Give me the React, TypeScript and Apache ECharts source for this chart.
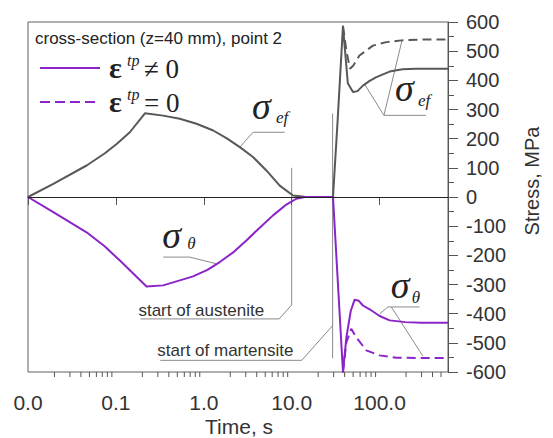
import React, { useEffect, useRef } from 'react';
import * as echarts from 'echarts';

type P = [number, number];

// Axes
const timeMin = 0.01;
const timeMax = 600;
const stressMin = -600;
const stressMax = 600;
const stressStep = 100;
const timeMinorTicks = [
  0.02, 0.03, 0.04, 0.05, 0.06, 0.07, 0.08, 0.09,
  0.2, 0.3, 0.4, 0.5, 0.6, 0.7, 0.8, 0.9,
  2, 3, 4, 5, 6, 7, 8, 9,
  20, 30, 40, 50, 60, 70, 80, 90,
  200, 300, 400, 500,
];

// Heating stage (common to both cases)
const efHeating: P[] = [
  [0.01, 0], [0.0194, 45], [0.0464, 108], [0.075, 150], [0.102, 182], [0.144, 222], [0.214, 287],
  [0.345, 279], [0.533, 268], [0.826, 251], [1.28, 228], [1.81, 202], [2.57, 171],
  [3.63, 137], [5.15, 91], [7.31, 39], [10.35, 5], [14, 1], [29.5, 0],
];
const thHeating: P[] = [
  [0.01, 0], [0.0194, -52], [0.0464, -121], [0.075, -170], [0.111, -218], [0.223, -307], [0.345, -303],
  [0.755, -272], [1.1, -250], [1.52, -223], [2.2, -188], [3.05, -149], [4.3, -106], [6.13, -63],
  [8.5, -28], [11.3, -6], [14, 0], [29.5, 0],
];
// Martensite spike
const efSpike: P[] = [[33.3, 262], [38.3, 585]];
const thSpike: P[] = [[38.3, -600]];
// Cooling stage, eps_tp != 0
const efWithTP: P[] = [
  [43.5, 390], [49.8, 360], [56, 363], [64.6, 382], [77, 398], [92, 411],
  [130, 430], [182, 438], [260, 440], [600, 440],
];
const thWithTP: P[] = [
  [41.9, -481], [47, -390], [52, -352], [58, -356], [64.6, -372], [77, -385],
  [100, -408], [130, -423], [196, -429], [300, -431], [600, -431],
];
// Cooling stage, eps_tp = 0
const efNoTP: P[] = [
  [38.3, 585], [42, 500], [46, 440], [50, 450], [59, 485], [84, 519],
  [119, 531], [177, 537], [300, 540], [600, 540],
];
const thNoTP: P[] = [
  [38.3, -600], [41.9, -498], [47.6, -452], [54.3, -481], [70.6, -526],
  [99.7, -543], [155, -551], [300, -552], [600, -552],
];

// Annotation leaders (data coordinates)
const leaderEfLeft: P[] = [[2.57, 171], [3.63, 222], [8.32, 222]];
const leaderThLeft: P[] = [[1.39, -229], [0.693, -206], [0.345, -206]];
const leaderEfRight: P[] = [[68, 385], [112, 280], [335, 280]];
const leaderEfRight2: P[] = [[112, 280], [180, 537]];
const leaderThRight: P[] = [[100, -401], [124, -377], [285, -377]];
const leaderThRight2: P[] = [[136, -377], [310, -545]];
const austeniteMark: P[] = [[10, 100], [10, -370], [7.2, -418], [0.19, -418]];
const martensiteMark: P[] = [[29.2, 286], [29.2, -553]];
const martensiteLeader: P[] = [[29.2, -441], [13, -560], [0.32, -560]];

const PURPLE = '#8b24c8';
const GRAY = '#585858';
const LEAD = '#8a8a8a';
const SANS = '"Liberation Sans", Arial, sans-serif';
const SERIF = '"Liberation Serif", "Times New Roman", serif';

export default function App() {
  const ref = useRef<HTMLDivElement>(null);

  useEffect(() => {
    const chart = echarts.init(ref.current!, null, { renderer: 'svg' });
    const isPow10 = (v: number) => Math.abs(Math.log10(v) - Math.round(Math.log10(v))) < 1e-6;

    chart.setOption({
      animation: false,
      backgroundColor: '#ffffff',
      grid: {
        left: 28, right: 105, top: 22, bottom: 66,
        show: true, borderColor: '#606060', borderWidth: 1,
        containLabel: false, outerBoundsMode: 'none',
      },
      xAxis: {
        type: 'log', logBase: 10, min: timeMin, max: timeMax,
        axisLine: { lineStyle: { color: '#555', width: 1 } },
        axisTick: { inside: false, length: 8, lineStyle: { color: '#555' } },
        splitLine: { show: false },
        axisLabel: {
          margin: 20, fontSize: 21, color: '#333', fontFamily: SANS,
          formatter: (v: number) => (isPow10(v) ? v.toFixed(1) : ''),
        },
      },
      yAxis: {
        type: 'value', position: 'right', min: stressMin, max: stressMax, interval: stressStep,
        axisLine: { show: true, lineStyle: { color: '#555', width: 1 } },
        axisTick: { show: true, inside: false, length: 10, lineStyle: { color: '#555' } },
        minorTick: { show: true, splitNumber: 2, length: 6, lineStyle: { color: '#555' } },
        splitLine: { show: false },
        axisLabel: { margin: 18, fontSize: 20, color: '#333', fontFamily: SANS, align: 'left' },
      },
      series: [
        {
          name: 'sigma_ef, eps_tp != 0', type: 'line', symbol: 'none', z: 3,
          data: [...efHeating, ...efSpike, ...efWithTP],
          lineStyle: { color: GRAY, width: 2, join: 'round' },
          markLine: {
            silent: true, symbol: 'none', label: { show: false },
            lineStyle: { color: '#222', width: 1, type: 'solid' },
            data: [{ yAxis: 0 }],
          },
        },
        {
          name: 'sigma_ef, eps_tp = 0', type: 'line', symbol: 'none', z: 3,
          data: efNoTP,
          lineStyle: { color: GRAY, width: 2, type: [9, 5] },
        },
        {
          name: 'sigma_theta, eps_tp != 0', type: 'line', symbol: 'none', z: 4,
          data: [...thHeating, ...thSpike, ...thWithTP],
          lineStyle: { color: PURPLE, width: 2, join: 'round' },
        },
        {
          name: 'sigma_theta, eps_tp = 0', type: 'line', symbol: 'none', z: 4,
          data: thNoTP,
          lineStyle: { color: PURPLE, width: 2, type: [9, 5] },
        },
        {
          type: 'custom', silent: true, clip: false, z: 2,
          data: timeMinorTicks.map((t) => [t, stressMin]),
          renderItem: (_p: any, api: any) => {
            const c = api.coord([api.value(0), api.value(1)]);
            return {
              type: 'line',
              shape: { x1: c[0], y1: c[1], x2: c[0], y2: c[1] + 5 },
              style: { stroke: '#555', lineWidth: 1 },
            };
          },
        },
      ],
    });

    const px = (p: P) => chart.convertToPixel({ gridIndex: 0 }, p) as number[];
    const poly = (pts: P[]) => ({
      type: 'polyline', silent: true,
      shape: { points: pts.map(px) },
      style: { stroke: LEAD, lineWidth: 1, fill: 'none' },
    });
    const txt = (x: number, baseline: number, text: string, size: number, family: string,
      style = 'normal', weight = 'normal', fill = '#222') => ({
      type: 'text', silent: true, x, y: baseline - 0.34 * size,
      style: {
        text, fill, font: `${style} ${weight} ${size}px ${family}`,
        align: 'left', verticalAlign: 'middle',
      },
    });
    const sigma = (anchor: P, dx: number, dy: number, sub: string, sdx: number, sdy: number, subSize: number) => {
      const a = px(anchor);
      return [
        txt(a[0] + dx, a[1] + dy, 'σ', 38, SERIF, 'italic'),
        txt(a[0] + sdx, a[1] + sdy, sub, subSize, SERIF, 'italic'),
      ];
    };
    const label = (anchor: P, dx: number, dy: number, text: string) => {
      const a = px(anchor);
      return txt(a[0] + dx, a[1] + dy, text, 17, SANS, 'normal', 'normal', '#333');
    };

    const graphic: any[] = [
      poly(leaderEfLeft), poly(leaderThLeft), poly(leaderEfRight), poly(leaderEfRight2),
      poly(leaderThRight), poly(leaderThRight2), poly(austeniteMark), poly(martensiteMark),
      poly(martensiteLeader),
      ...sigma(leaderEfLeft[1], -1, -13, 'ef', 23, -9, 17),
      ...sigma(leaderThLeft[2], -1, -9, 'θ', 24, -8, 17),
      ...sigma(leaderEfRight[1], 11, -14, 'ef', 34, -9, 17),
      ...sigma(leaderThRight[1], 3, -9, 'θ', 24, -4, 17),
      label(austeniteMark[3], -2, -3, 'start of austenite'),
      label(martensiteLeader[2], -3, -4, 'start of martensite'),
      // title
      txt(35, 44, 'cross-section (z=40 mm), point 2', 17, SANS, 'normal', 'normal', '#222'),
      // legend
      { type: 'line', silent: true, shape: { x1: 40, y1: 68, x2: 100, y2: 68 }, style: { stroke: PURPLE, lineWidth: 2 } },
      { type: 'line', silent: true, shape: { x1: 40, y1: 102, x2: 100, y2: 102 }, style: { stroke: PURPLE, lineWidth: 2, lineDash: [10, 5] } },
      txt(109, 78, 'ε', 30, SERIF, 'normal', 'bold'),
      txt(127, 66, 'tp', 16, SERIF, 'italic'),
      txt(144, 78, '≠ 0', 27, SERIF),
      txt(109, 112, 'ε', 30, SERIF, 'normal', 'bold'),
      txt(127, 100, 'tp', 16, SERIF, 'italic'),
      txt(144, 112, '= 0', 27, SERIF),
      // axis names
      txt(205, 434, 'Time, s', 21, SANS, 'normal', 'normal', '#333'),
      {
        type: 'text', silent: true, x: 532, y: 181, rotation: Math.PI / 2,
        style: {
          text: 'Stress, MPa', fill: '#333', font: `20px ${SANS}`,
          align: 'center', verticalAlign: 'middle',
        },
      },
    ];
    chart.setOption({ graphic });

    return () => chart.dispose();
  }, []);

  return (
    <div
      ref={ref}
      style={{ position: 'fixed', left: 0, top: 0, width: 553, height: 438, background: '#fff' }}
    />
  );
}
